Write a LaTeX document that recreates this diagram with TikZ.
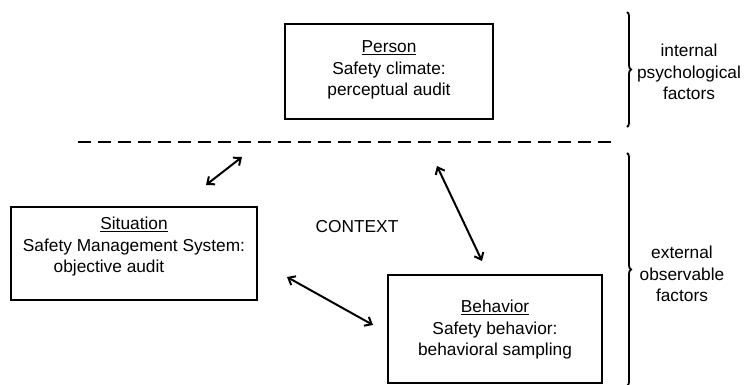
\documentclass[tikz,border=0pt]{standalone}
\usepackage{fontspec}
\setmainfont{Liberation Sans}
\usetikzlibrary{arrows.meta,decorations.pathreplacing}
\begin{document}
\begin{tikzpicture}[x=1pt,y=-1pt,
  boxnode/.style={draw,line width=1.9pt,inner sep=0pt},
  txt/.style={align=center,font=\fontsize{17.3}{21.5}\selectfont,inner sep=0pt},
  dblarrow/.style={line width=2pt,{Straight Barb[length=6pt,width=10pt,line width=2pt]}-{Straight Barb[length=6pt,width=10pt,line width=2pt]}},
  bracestyle/.style={line width=1.8pt,decorate,decoration={brace,amplitude=4pt}}]
\useasboundingbox (0,0) rectangle (749,385);
% boxes
\node[boxnode,minimum width=208pt,minimum height=95pt] (per) at (389,71.5) {};
\node[txt] (perT) at (389,70) {\underline{Person}\\Safety climate:\\perceptual audit};
\node[boxnode,minimum width=246pt,minimum height=93pt] (sit) at (134,253.5) {};
\node[txt] (sitT) at (134,247) {\underline{Situation}\\Safety Management System:\\objective audit\hspace*{50pt}};
\node[boxnode,minimum width=214pt,minimum height=108pt] (beh) at (495,329) {};
\node[txt] (behT) at (495,330) {\underline{Behavior}\\Safety behavior:\\behavioral sampling};
\node[txt] (ctx) at (357,227) {CONTEXT};
% dashed divider
\coordinate (dl) at (78,142);
\coordinate (dr) at (617,142);
\draw[line width=1.9pt,dash pattern=on 13pt off 7pt] (dl) -- (dr);
% arrows
\coordinate (a1s) at (206,185);
\coordinate (a1e) at (242,157);
\draw[dblarrow] (a1s) -- (a1e);
\coordinate (a2s) at (287,277);
\coordinate (a2e) at (373,325);
\draw[dblarrow] (a2s) -- (a2e);
\coordinate (a3s) at (437,166);
\coordinate (a3e) at (482,261);
\draw[dblarrow] (a3s) -- (a3e);
% braces
\coordinate (b1t) at (627,12);
\coordinate (b1b) at (627,127);
\draw[bracestyle] (b1t) -- (b1b);
\coordinate (b2t) at (627,153);
\coordinate (b2b) at (627,386);
\draw[bracestyle] (b2t) -- (b2b);
\node[txt] (intl) at (689,72) {internal\\psychological\\factors};
\node[txt] (extl) at (682,274) {external\\observable\\factors};
\end{tikzpicture}
\end{document}
